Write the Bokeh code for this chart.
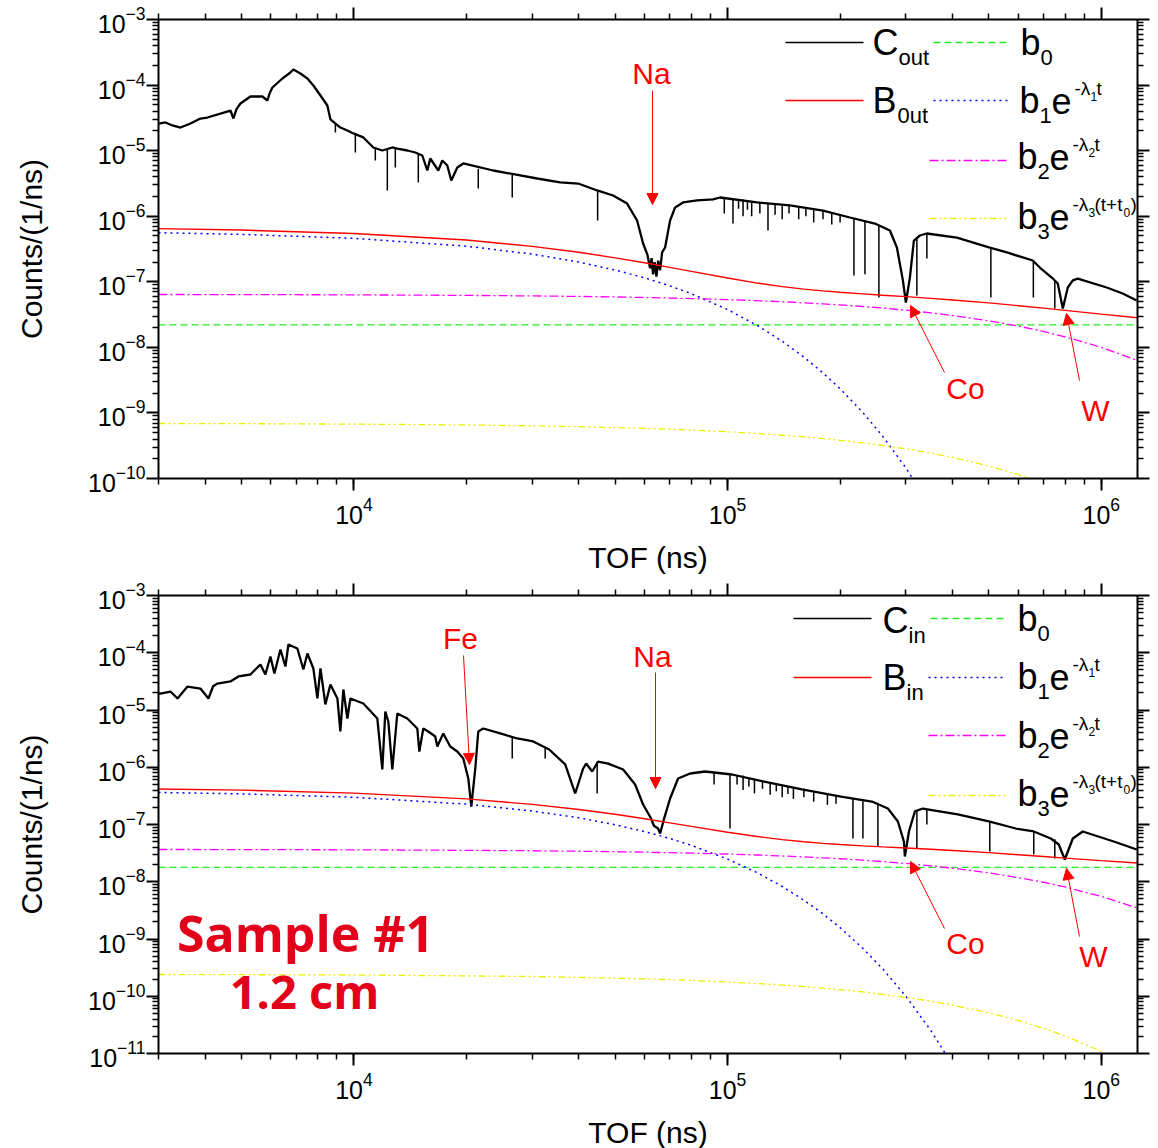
import math
from bokeh.plotting import figure
from bokeh.models import Range1d, FixedTicker, LogAxis, Arrow, NormalHead, CustomJSTickFormatter
from bokeh.layouts import column
from bokeh.core.properties import value
from bokeh.embed import file_html
from bokeh.resources import INLINE

# ---------------- data ----------------
TOF_OUT = [3000, 3132, 3270, 3435, 3653, 3884, 4056, 4395, 4673, 4761, 4850, 4970, 5286, 5692, 5869, 5950,
           6053, 6437, 6761, 6888, 7192, 7509, 7790, 8138, 8491, 8652, 9200, 9605, 9966, 10599, 11272, 11914,
           12671, 13066, 13899, 14600, 15243, 15720, 16012, 16822, 17242, 17779, 18223, 18910, 19622, 23595,
           30939, 35649, 39822, 44769, 49398, 53841, 57255, 59418, 61000, 62031, 62600, 63186, 63800, 64500,
           65200, 65970, 66800, 68040, 70167, 72369, 76008, 82860, 91437, 95466, 119892, 146850, 179970,
           212520, 247860, 271860, 283830, 294510, 300000, 307500, 315150, 327000, 341400, 410700, 503100,
           558900, 655800, 684600, 737100, 764700, 789000, 813600, 839100, 865200, 1033800, 1141200, 1243800]
C_OUT = [2.59e-5, 2.69e-5, 2.42e-5, 2.25e-5, 2.59e-5, 3.09e-5, 3.20e-5, 3.68e-5, 4.09e-5, 3.09e-5, 4.3e-5, 5.23e-5,
         6.69e-5, 6.69e-5, 5.82e-5, 7.5e-5, 9.18e-5, 1.259e-4, 1.554e-4, 1.728e-4, 1.501e-4, 1.259e-4, 9.85e-5,
         6.93e-5, 4.88e-5, 3.0e-5, 2.25e-5, 2.03e-5, 1.83e-5, 1.59e-5, 1.117e-5, 1.005e-5, 1.117e-5, 1.078e-5,
         1.005e-5, 9.37e-6, 8.43e-6, 4.98e-6, 7.59e-6, 4.98e-6, 7.07e-6, 5.93e-6, 3.50e-6, 5.53e-6, 6.37e-6,
         4.98e-6, 3.76e-6, 3.27e-6, 3.15e-6, 2.47e-6, 2.07e-6, 1.56e-6, 8.6e-7, 3.84e-7, 2.6e-7, 1.6e-7, 2.3e-7,
         1.3e-7, 2.0e-7, 1.2e-7, 2.1e-7, 1.5e-7, 2.8e-7, 3.33e-7, 8.6e-7, 1.36e-6, 1.62e-6, 1.74e-6, 1.80e-6,
         1.93e-6, 1.62e-6, 1.46e-6, 1.22e-6, 9.56e-7, 7.74e-7, 6.05e-7, 3.33e-7, 1.05e-7, 4.83e-8, 1.16e-7,
         4.26e-7, 5.08e-7, 5.45e-7, 4.73e-7, 3.33e-7, 2.80e-7, 2.11e-7, 1.65e-7, 1.16e-7, 9.41e-8, 3.91e-8,
         8.18e-8, 1.05e-7, 1.12e-7, 8.18e-8, 6.63e-8, 5.18e-8]
DIP_OUT_TOF = [8923, 10090, 11411, 12288, 12907, 14872, 21518, 26530, 44900, 98000, 103371, 107000, 110000,
               113000, 116000, 122000, 128268, 134000, 140000, 146000, 155000, 162000, 170000, 180000, 190000,
               200000, 217830, 233100, 254040, 321000, 341400, 506400, 658000, 750900]
DIP_OUT_TOP = [2.6e-5, 1.75e-5, 1.1e-5, 1.03e-5, 1.09e-5, 9.1e-6, 5.3e-6, 4.3e-6, 2.45e-6, 1.9e-6, 1.88e-6,
               1.82e-6, 1.8e-6, 1.75e-6, 1.7e-6, 1.65e-6, 1.58e-6, 1.53e-6, 1.5e-6, 1.46e-6, 1.42e-6, 1.36e-6,
               1.3e-6, 1.24e-6, 1.15e-6, 1.08e-6, 9.4e-7, 8.6e-7, 7.2e-7, 4.5e-7, 5.4e-7, 3.3e-7, 2.05e-7,
               1.03e-7]
DIP_OUT_BOT = [1.89e-5, 9.37e-6, 7.07e-6, 2.47e-6, 5.53e-6, 3.27e-6, 2.65e-6, 1.93e-6, 8.6e-7, 1.1e-6, 7.74e-7,
               1.3e-6, 1.0e-6, 1.25e-6, 1.0e-6, 1.1e-6, 6.05e-7, 1.05e-6, 9.0e-7, 1.1e-6, 9.0e-7, 1.0e-6,
               8.0e-7, 9.0e-7, 7.5e-7, 8.0e-7, 1.25e-7, 1.3e-7, 5.76e-8, 6.18e-8, 2.26e-7, 5.76e-8, 5.76e-8,
               3.91e-8]

TOF_IN = [3000, 3037, 3230, 3373, 3587, 3884, 4081, 4200, 4314, 4673, 4909, 5286, 5622, 5797, 5979, 6128, 6359,
          6558, 6680, 7059, 7325, 7509, 7790, 7985, 8138, 8389, 8652, 9033, 9200, 9372, 9605, 9785, 10599,
          11554, 11914, 12137, 12363, 12671, 13066, 13899, 14780, 14964, 15337, 15815, 16511, 16716, 17343,
          18106, 18910, 19622, 20237, 20613, 21127, 21518, 22188, 24636, 27362, 30187, 32904, 33312, 36765,
          39096, 41070, 41835, 43407, 45045, 47904, 52536, 56568, 59418, 62418, 63500, 65172, 66000, 67626,
          70167, 73707, 79362, 87027, 102750, 124380, 158160, 201090, 243360, 268530, 285570, 296340, 298140,
          305700, 317100, 333000, 413100, 500100, 590700, 659700, 732600, 769500, 798600, 839100, 892200,
          1079400, 1243800]
C_IN = [1.94e-5, 1.94e-5, 2.10e-5, 1.59e-5, 2.57e-5, 2.37e-5, 1.59e-5, 2.6e-5, 2.90e-5, 3.15e-5, 3.85e-5, 4.17e-5,
        6.23e-5, 4.17e-5, 8.60e-5, 4.34e-5, 1.140e-4, 5.75e-5, 1.393e-4, 1.186e-4, 5.10e-5, 9.70e-5, 5.31e-5,
        1.59e-5, 5.31e-5, 1.25e-5, 2.79e-5, 1.59e-5, 4.21e-6, 2.28e-5, 7.10e-6, 1.59e-5, 1.30e-5, 7.10e-6,
        9.14e-7, 9.41e-6, 6.30e-6, 9.14e-7, 8.69e-6, 7.10e-6, 4.75e-6, 1.88e-6, 4.75e-6, 4.21e-6, 3.44e-6,
        2.30e-6, 3.89e-6, 2.30e-6, 1.88e-6, 1.42e-6, 6.36e-7, 2.06e-7, 9.51e-7, 4.21e-6, 4.75e-6, 3.89e-6,
        3.18e-6, 2.82e-6, 2.13e-6, 2.04e-6, 1.12e-6, 3.48e-7, 9.51e-7, 1.16e-6, 8.43e-7, 1.26e-6, 1.16e-6,
        9.14e-7, 5.00e-7, 2.24e-7, 1.27e-7, 9.5e-8, 8.51e-8, 6.96e-8, 1.27e-7, 2.85e-7, 6.36e-7, 7.78e-7,
        8.43e-7, 7.47e-7, 5.64e-7, 4.09e-7, 3.08e-7, 2.52e-7, 1.90e-7, 1.13e-7, 5.05e-8, 2.76e-8, 7.55e-8,
        1.69e-7, 1.90e-7, 1.50e-7, 1.13e-7, 8.51e-8, 7.55e-8, 5.69e-8, 4.47e-8, 2.45e-8, 5.69e-8, 7.55e-8,
        5.05e-8, 3.66e-8]
DIP_IN_TOF = [26530, 32503, 44769, 92000, 101490, 106000, 110000, 114000, 118000, 124000, 130000, 135000,
              140000, 145000, 150000, 160000, 170000, 185000, 195000, 216480, 230220, 252480, 321000, 341400,
              503100, 659700, 750900]
DIP_IN_TOP = [3.3e-6, 2.2e-6, 1.25e-6, 8.3e-7, 7.5e-7, 7.3e-7, 7.2e-7, 6.6e-7, 6.2e-7, 5.8e-7, 5.5e-7, 5.2e-7,
              5.0e-7, 4.7e-7, 4.5e-7, 4.2e-7, 3.8e-7, 3.4e-7, 3.2e-7, 2.9e-7, 2.7e-7, 2.4e-7, 1.8e-7, 1.85e-7,
              1.12e-7, 7.6e-8, 5.5e-8]
DIP_IN_BOT = [1.42e-6, 1.42e-6, 3.48e-7, 5.0e-7, 8.51e-8, 5.0e-7, 4.0e-7, 4.6e-7, 3.5e-7, 4.2e-7, 3.3e-7, 3.8e-7,
              3.0e-7, 3.4e-7, 2.8e-7, 3.0e-7, 2.5e-7, 2.2e-7, 2.3e-7, 5.69e-8, 5.69e-8, 4.13e-8, 3.81e-8, 1.0e-7,
              3.38e-8, 2.99e-8, 2.55e-8]

TOF_GRID = [3000, 5000, 1e4, 2e4, 3e4, 4e4, 5e4, 6e4, 7e4, 8e4, 1e5, 1.2e5, 1.4e5, 1.6e5, 1.8e5, 2e5, 2.3e5,
            2.6e5, 3e5, 3.5e5, 4e5, 5e5, 6e5, 7e5, 8e5, 1e6, 1.25e6]
B0_OUT = 2.2e-8
B_OUT = [6.47e-7, 6.15e-7, 5.46e-7, 4.34e-7, 3.47e-7, 2.82e-7, 2.32e-7, 1.95e-7, 1.66e-7, 1.44e-7, 1.14e-7,
         9.56e-8, 8.45e-8, 7.73e-8, 7.26e-8, 6.91e-8, 6.54e-8, 6.24e-8, 5.93e-8, 5.59e-8, 5.28e-8, 4.76e-8,
         4.32e-8, 3.96e-8, 3.66e-8, 3.21e-8, 2.83e-8]
B1_OUT = [5.60e-7, 5.29e-7, 4.60e-7, 3.49e-7, 2.64e-7, 2.00e-7, 1.51e-7, 1.15e-7, 8.68e-8, 6.58e-8, 3.77e-8,
          2.16e-8, 1.24e-8, 7.12e-9, 4.08e-9, 2.34e-9, 1.02e-9, 4.41e-10, 1.45e-10, 3.62e-11]
B2_OUT = [6.40e-8, 6.38e-8, 6.32e-8, 6.20e-8, 6.09e-8, 5.98e-8, 5.87e-8, 5.76e-8, 5.65e-8, 5.55e-8, 5.35e-8,
          5.15e-8, 4.96e-8, 4.78e-8, 4.61e-8, 4.44e-8, 4.20e-8, 3.97e-8, 3.69e-8, 3.36e-8, 3.06e-8, 2.54e-8,
          2.11e-8, 1.75e-8, 1.45e-8, 1.00e-8, 6.30e-9]
B3_OUT = [6.90e-10, 6.86e-10, 6.75e-10, 6.55e-10, 6.36e-10, 6.17e-10, 5.99e-10, 5.81e-10, 5.64e-10, 5.47e-10,
          5.16e-10, 4.86e-10, 4.57e-10, 4.31e-10, 4.06e-10, 3.82e-10, 3.49e-10, 3.19e-10, 2.83e-10, 2.44e-10,
          2.10e-10, 1.55e-10, 1.15e-10, 8.52e-11]

B0_IN = 1.78e-8
B_IN = [4.18e-7, 3.98e-7, 3.53e-7, 2.80e-7, 2.25e-7, 1.83e-7, 1.51e-7, 1.26e-7, 1.07e-7, 9.29e-8, 7.34e-8,
        6.17e-8, 5.45e-8, 4.99e-8, 4.69e-8, 4.47e-8, 4.24e-8, 4.07e-8, 3.89e-8, 3.69e-8, 3.52e-8, 3.22e-8,
        2.96e-8, 2.76e-8, 2.59e-8, 2.34e-8, 2.13e-8]
B1_IN = [3.63e-7, 3.43e-7, 2.99e-7, 2.27e-7, 1.72e-7, 1.31e-7, 9.91e-8, 7.52e-8, 5.71e-8, 4.33e-8, 2.49e-8,
         1.44e-8, 8.27e-9, 4.76e-9, 2.74e-9, 1.58e-9, 6.89e-10, 3.01e-10, 1.00e-10, 2.51e-11, 6.33e-12]
B2_IN = [3.66e-8, 3.65e-8, 3.61e-8, 3.54e-8, 3.48e-8, 3.41e-8, 3.35e-8, 3.29e-8, 3.22e-8, 3.16e-8, 3.05e-8,
         2.93e-8, 2.82e-8, 2.72e-8, 2.62e-8, 2.52e-8, 2.38e-8, 2.25e-8, 2.09e-8, 1.90e-8, 1.73e-8, 1.43e-8,
         1.18e-8, 9.80e-9, 8.11e-9, 5.56e-9, 3.47e-9]
B3_IN = [2.40e-10, 2.38e-10, 2.35e-10, 2.27e-10, 2.21e-10, 2.14e-10, 2.07e-10, 2.01e-10, 1.95e-10, 1.89e-10,
         1.77e-10, 1.67e-10, 1.57e-10, 1.47e-10, 1.39e-10, 1.30e-10, 1.19e-10, 1.08e-10, 9.55e-11, 8.18e-11,
         7.00e-11, 5.14e-11, 3.77e-11, 2.76e-11, 2.03e-11, 1.09e-11, 5.03e-12]

X_MAJOR = [1e4, 1e5, 1e6]
X_MINOR = [m * 10 ** e for e in (3, 4, 5) for m in range(2, 10) if 3000 <= m * 10 ** e <= 1.25e6]

# ---------------- styling / layout ----------------
FONT = "Liberation Sans"
FL, FW = 158, 979
X_LO, X_HI = 3000, 1.25e6
GREEN, BLUE, MAGENTA, YELLOW, RED = "#22EE22", "#0000FF", "#FF00FF", "#EEEE00", "#FF0000"


def make_fig(canvas_top, frame_h, bottom_border, y_lo, y_hi):
    p = figure(frame_width=FW, frame_height=frame_h, x_axis_type="log", y_axis_type="log",
               x_range=Range1d(X_LO, X_HI), y_range=Range1d(y_lo, y_hi),
               output_backend="svg", toolbar_location=None,
               min_border_left=FL, min_border_right=21, min_border_top=19, min_border_bottom=bottom_border)
    p.outline_line_color = None
    p.xgrid.visible = False
    p.ygrid.visible = False
    e_lo, e_hi = round(math.log10(y_lo)), round(math.log10(y_hi))
    y_major = [10.0 ** e for e in range(e_lo, e_hi + 1)]
    y_minor = [m * 10.0 ** e for e in range(e_lo, e_hi) for m in range(2, 10)]
    xt = FixedTicker(ticks=X_MAJOR, minor_ticks=X_MINOR)
    yt = FixedTicker(ticks=y_major, minor_ticks=y_minor)
    p.add_layout(LogAxis(ticker=xt, formatter=CustomJSTickFormatter(code="return ''")), "above")
    p.add_layout(LogAxis(ticker=yt, formatter=CustomJSTickFormatter(code="return ''")), "right")
    p.xaxis[0].ticker = xt
    p.yaxis[0].ticker = yt
    for ax in p.axis:
        ax.axis_line_width = 2
        ax.major_tick_line_width = 2
        ax.minor_tick_line_width = 1.5
        ax.major_tick_out = 12
        ax.major_tick_in = 0
        ax.minor_tick_out = 6
        ax.minor_tick_in = 0
        ax.major_label_text_font = FONT
        ax.major_label_text_font_size = "25px"
        ax.major_label_text_color = "black"
        ax.axis_label_text_font = FONT
        ax.axis_label_text_font_style = "normal"
        ax.axis_label_text_font_size = "30px"
        ax.axis_label_text_color = "black"
    for ax in (p.above[0], p.right[0]):
        ax.major_label_text_font_size = "0px"
    p.below[0].axis_label = "TOF (ns)"
    p.below[0].major_label_standoff = 6
    p.below[0].axis_label_standoff = 14
    p.left[0].axis_label = "Counts/(1/ns)"
    p.left[0].major_label_standoff = 1
    p.left[0].axis_label_standoff = 37

    lx0, lx1 = math.log10(X_LO), math.log10(X_HI)
    ly0, ly1 = math.log10(y_lo), math.log10(y_hi)

    def conv(px, py):
        x = 10 ** (lx0 + (px - FL) / FW * (lx1 - lx0))
        y = 10 ** (ly1 - (py - canvas_top) / frame_h * (ly1 - ly0))
        return x, y
    return p, conv


def txt(p, conv, px, base, s, size, color="black", align="left", bold=False, font=FONT, cap=0.36):
    # base = pixel row of the text baseline; text is anchored on its middle
    x, y = conv(px, base - cap * size)
    p.text(x=[x], y=[y], text=[s], text_font=value(font), text_font_size=f"{size}px", text_color=color,
           text_align=align, text_baseline="middle", text_font_style="bold" if bold else "normal")


def label(p, conv, px, py, s):
    x, y = conv(px, py)
    p.text(x=[x], y=[y], text=[s], text_font=value(FONT), text_font_size="30px", text_color=RED,
           text_align="center", text_baseline="middle")


def arrow(p, conv, p0, p1):
    x0, y0 = conv(*p0)
    x1, y1 = conv(*p1)
    p.add_layout(Arrow(end=NormalHead(size=11, fill_color=RED, line_color=RED, line_width=1),
                       x_start=x0, y_start=y0, x_end=x1, y_end=y1, line_color=RED, line_width=1))


def hline(p, conv, x0, x1, py, **kw):
    a, b = conv(x0, py)
    c, _ = conv(x1, py)
    p.line([a, c], [b, b], **kw)


def formula(p, conv, x0, base, k, extra=False):
    pieces = [("b", 0, 0, 36), (k, 20, 10, 22), ("e", 32, 0, 36), ("-λ", 55, -18, 19),
              (k, 71, -13, 12)]
    if extra:
        pieces += [("(t+t", 77, -18, 19), ("0", 106, -13, 12), (")", 113, -18, 19)]
    else:
        pieces += [("t", 77, -18, 19)]
    for s, dx, dy, size in pieces:
        txt(p, conv, x0 + dx, base + dy, s, size)


def draw_panel(p, conv, tof, c, dtof, dtop, dbot, b_tot, b0, b1, b2, b3):
    p.segment(x0=dtof, y0=dtop, x1=dtof, y1=dbot, line_color="black", line_width=1.5)
    p.line(tof, c, line_color="black", line_width=2.3)
    p.line([X_LO, X_HI], [b0, b0], line_color=GREEN, line_width=1.4, line_dash="7 4")
    p.line(TOF_GRID[:len(b1)], b1, line_color=BLUE, line_width=1.5, line_dash="2 4")
    p.line(TOF_GRID[:len(b2)], b2, line_color=MAGENTA, line_width=1.3, line_dash="9 3 2 3")
    p.line(TOF_GRID[:len(b3)], b3, line_color=YELLOW, line_width=1.3, line_dash="7 3 2 3 2 3")
    p.line(TOF_GRID[:len(b_tot)], b_tot, line_color=RED, line_width=1.4)


# ---------------- top panel ----------------
top, ct = make_fig(19, 459, 97, 1e-10, 1e-3)
draw_panel(top, ct, TOF_OUT, C_OUT, DIP_OUT_TOF, DIP_OUT_TOP, DIP_OUT_BOT, B_OUT, B0_OUT, B1_OUT, B2_OUT, B3_OUT)
label(top, ct, 651, 73, "Na")
arrow(top, ct, (652, 90), (652, 204))
label(top, ct, 965, 388, "Co")
arrow(top, ct, (944, 372), (910, 305))
label(top, ct, 1095, 410, "W")
arrow(top, ct, (1079, 380), (1066, 313))
# legend
hline(top, ct, 785, 863, 42, line_color="black", line_width=1.3)
txt(top, ct, 872, 55, "C", 36)
txt(top, ct, 898, 65, "out", 22)
hline(top, ct, 785, 863, 100, line_color=RED, line_width=1.3)
txt(top, ct, 872, 113, "B", 36)
txt(top, ct, 897, 123, "0ut", 22)
hline(top, ct, 933, 1007, 42, line_color=GREEN, line_width=1.4, line_dash="7 4")
txt(top, ct, 1020, 55, "b", 36)
txt(top, ct, 1040, 65, "0", 22)
hline(top, ct, 933, 1007, 100, line_color=BLUE, line_width=1.5, line_dash="2 4")
formula(top, ct, 1019, 113, "1")
hline(top, ct, 929, 1007, 160, line_color=MAGENTA, line_width=1.3, line_dash="9 3 2 3")
formula(top, ct, 1017, 169, "2")
hline(top, ct, 929, 1007, 218, line_color=YELLOW, line_width=1.3, line_dash="7 3 2 3 2 3")
formula(top, ct, 1017, 229, "3", extra=True)

# ---------------- bottom panel ----------------
bot, cb = make_fig(594, 458, 96, 1e-11, 1e-3)
draw_panel(bot, cb, TOF_IN, C_IN, DIP_IN_TOF, DIP_IN_TOP, DIP_IN_BOT, B_IN, B0_IN, B1_IN, B2_IN, B3_IN)
label(bot, cb, 460, 637, "Fe")
arrow(bot, cb, (463, 654), (469, 763))
label(bot, cb, 652, 655, "Na")
arrow(bot, cb, (655, 671), (655, 787))
label(bot, cb, 965, 942, "Co")
arrow(bot, cb, (944, 927), (910, 860))
label(bot, cb, 1093, 955, "W")
arrow(bot, cb, (1079, 935), (1066, 867))
txt(bot, cb, 305, 948, "Sample #1", 50, "#E2001A", "center", bold=True, font="Open Sans", cap=0.34)
txt(bot, cb, 304, 1005, "1.2 cm", 47, "#E2001A", "center", bold=True, font="Open Sans", cap=0.34)
# legend
hline(bot, cb, 793, 871, 617, line_color="black", line_width=1.3)
txt(bot, cb, 882, 632, "C", 36)
txt(bot, cb, 908, 642, "in", 22)
hline(bot, cb, 793, 871, 676, line_color=RED, line_width=1.3)
txt(bot, cb, 882, 689, "B", 36)
txt(bot, cb, 906, 699, "in", 22)
hline(bot, cb, 930, 1003, 617, line_color=GREEN, line_width=1.4, line_dash="7 4")
txt(bot, cb, 1017, 630, "b", 36)
txt(bot, cb, 1037, 640, "0", 22)
hline(bot, cb, 928, 1002, 676, line_color=BLUE, line_width=1.5, line_dash="2 4")
formula(bot, cb, 1017, 688, "1")
hline(bot, cb, 928, 1005, 734, line_color=MAGENTA, line_width=1.3, line_dash="9 3 2 3")
formula(bot, cb, 1017, 747, "2")
hline(bot, cb, 928, 1005, 794, line_color=YELLOW, line_width=1.3, line_dash="7 3 2 3 2 3")
formula(bot, cb, 1017, 805, "3", extra=True)

layout = column(top, bot, spacing=0)
open("out.html", "w").write(file_html(layout, INLINE))
